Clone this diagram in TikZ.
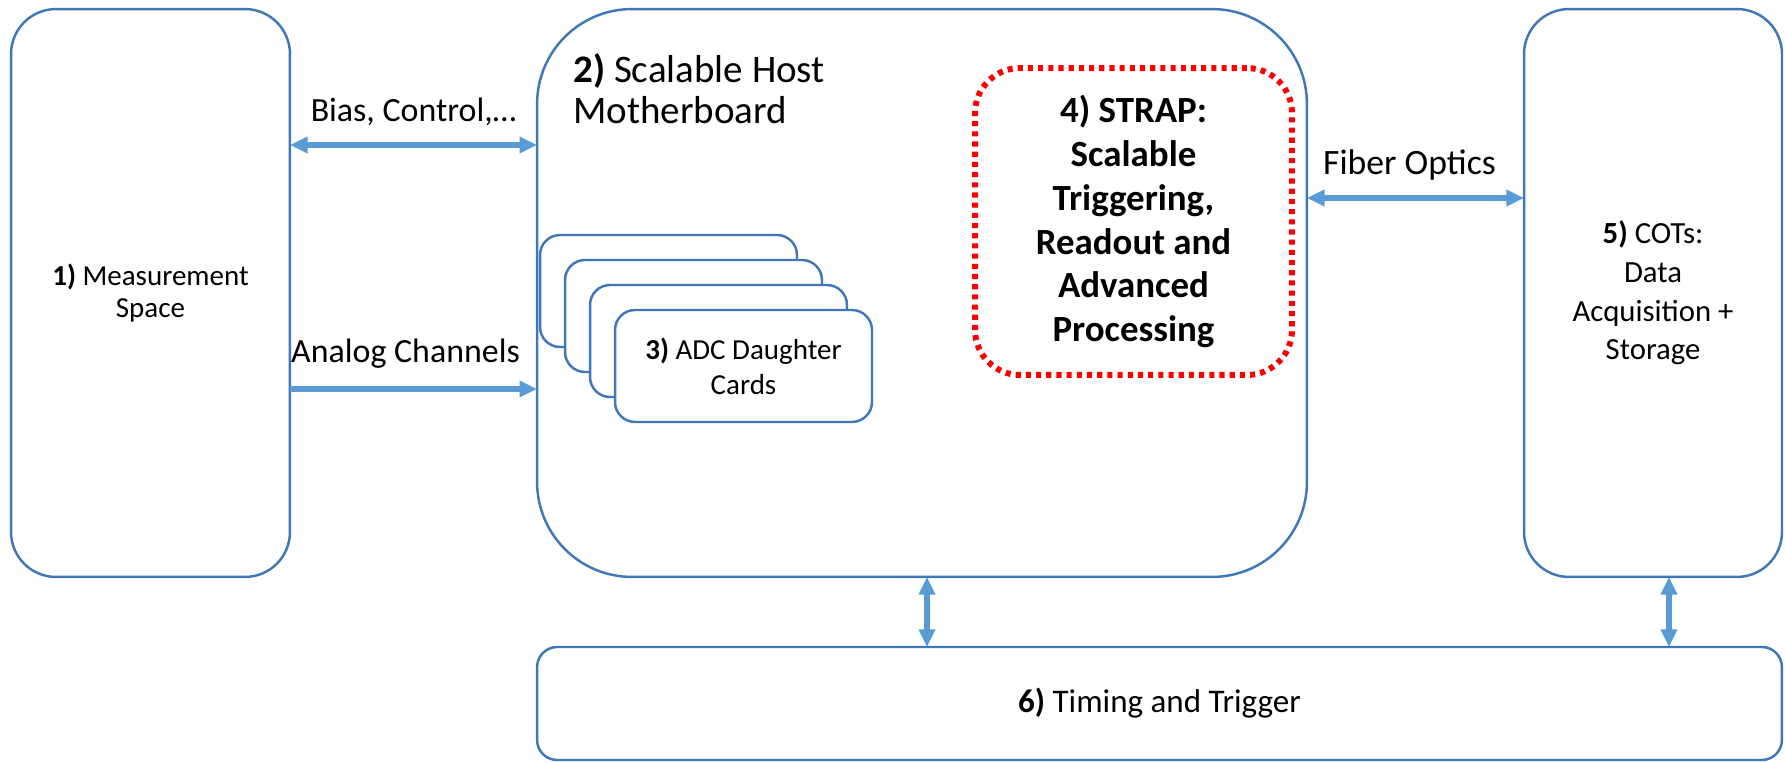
\documentclass[tikz,border=0pt]{standalone}
\usepackage{fontspec}
\setmainfont{Carlito}
\usetikzlibrary{arrows.meta,calc}
\definecolor{boxblue}{HTML}{3F77B8}
\definecolor{arrblue}{HTML}{5B9BD5}
\begin{document}
\begin{tikzpicture}[x=0.02cm,y=-0.02cm,
  blk/.style={draw=boxblue, line width=1.4pt, inner sep=0pt, outer sep=0pt, align=center, fill=white, text=black},
  reddot/.style={draw=red, line width=3.4pt, dash pattern=on 2.9pt off 2.9pt, inner sep=0pt, outer sep=0pt, align=center, rounded corners=0.9cm},
  darr/.style={draw=arrblue, line width=3.1pt, {Triangle[length=10pt,width=9pt]}-{Triangle[length=10pt,width=9pt]}},
  sarr/.style={draw=arrblue, line width=3.1pt, -{Triangle[length=10pt,width=9pt]}},
  lab/.style={font=\fontsize{19.3}{22}\selectfont, anchor=base, inner sep=0pt, text=black},
  txtA/.style={font=\fontsize{16.5}{18.4}\selectfont},
  txtC/.style={font=\fontsize{17.5}{22}\selectfont},
  txtD/.style={font=\fontsize{16.5}{20}\selectfont},
]
\useasboundingbox (0,0) rectangle (1785,763);
\fill[white] (0,0) rectangle (1785,763);

% boxes
\node[blk, rounded corners=0.9cm, minimum width=5.58cm, minimum height=11.36cm, txtA] (meas) at (150.5,293) {\textbf{1)} Measurement\\Space};
\node[blk, rounded corners=1.9cm, minimum width=15.4cm, minimum height=11.36cm] (host) at (922,293) {};
\node[blk, rounded corners=0.9cm, minimum width=5.16cm, minimum height=11.36cm, txtC] (cots) at (1653,293) {\textbf{5)} COTs:\\Data\\Acquisition +\\Storage};
\node[blk, rounded corners=0.4cm, minimum width=24.9cm, minimum height=2.26cm, font=\fontsize{18.8}{22}\selectfont] (tt) at (1159.5,703.5) {\textbf{6)} Timing and Trigger};

% host title
\node[anchor=north west, inner sep=0pt, align=left, font=\fontsize{22.2}{23.5}\selectfont] (hosttitle) at (573,53) {\textbf{2)} Scalable Host\\Motherboard};

% daughter cards
\node[blk, rounded corners=0.4cm, minimum width=5.14cm, minimum height=2.24cm] (card0) at (668.5,291) {};
\node[blk, rounded corners=0.4cm, minimum width=5.14cm, minimum height=2.24cm] (card1) at (693.5,316) {};
\node[blk, rounded corners=0.4cm, minimum width=5.14cm, minimum height=2.24cm] (card2) at (718.5,341) {};
\node[blk, rounded corners=0.4cm, minimum width=5.14cm, minimum height=2.24cm, txtD] (card3) at (743.5,366) {\textbf{3)} ADC Daughter\\Cards};

% STRAP
\node[reddot, minimum width=6.34cm, minimum height=6.14cm, font=\bfseries\fontsize{21}{25}\selectfont] (strap) at (1133.5,221.5) {4) STRAP:\\Scalable\\Triggering,\\Readout and\\Advanced\\Processing};

% connectors
\draw[darr] (meas.east |- 0,145) -- node[lab, yshift=0.46cm]{Bias, Control,…} (host.west |- 0,145);
\draw[sarr] (meas.east |- 0,389) -- node[lab, yshift=0.54cm, xshift=-0.16cm]{Analog Channels} (host.west |- 0,389);
\draw[darr] (host.east |- 0,198) -- node[lab, yshift=0.48cm, xshift=-0.12cm, font=\fontsize{20.3}{22}\selectfont]{Fiber Optics} (cots.west |- 0,198);
\draw[darr] (host.south -| 927,0) -- (tt.north -| 927,0);
\draw[darr] (cots.south -| 1669,0) -- (tt.north -| 1669,0);
\end{tikzpicture}
\end{document}
